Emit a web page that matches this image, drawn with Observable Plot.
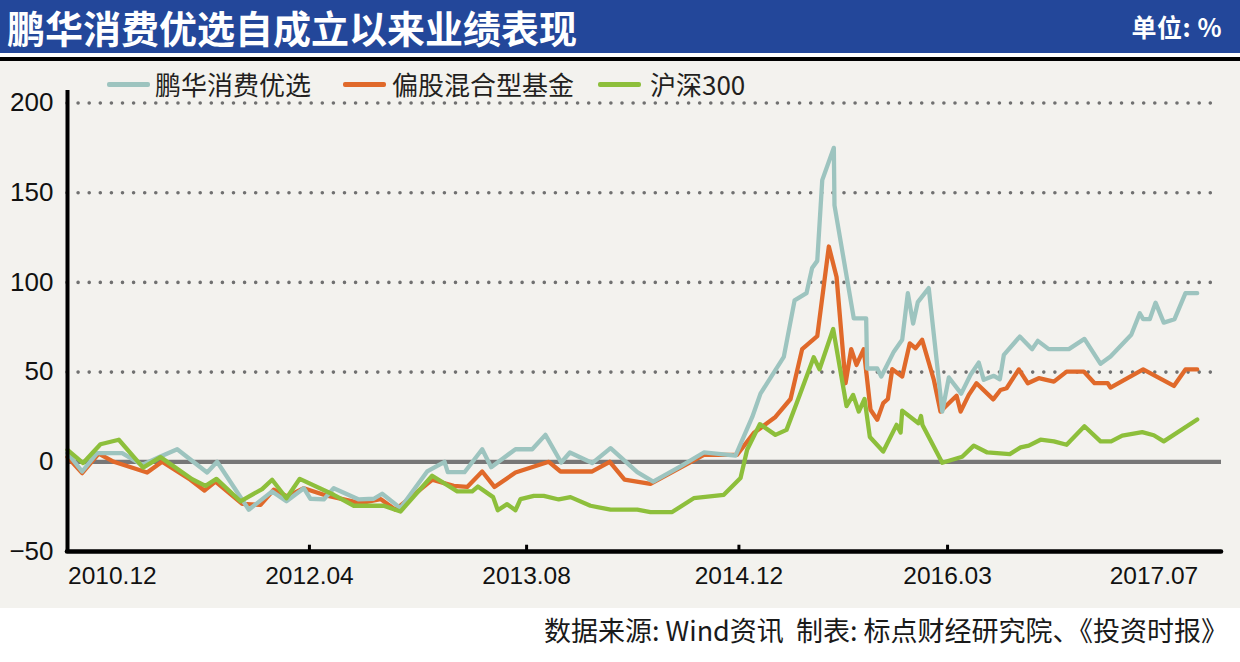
<!DOCTYPE html>
<html><head><meta charset="utf-8">
<script src="https://cdn.jsdelivr.net/npm/d3@7"></script>
<script src="https://cdn.jsdelivr.net/npm/@observablehq/plot@0.6"></script>
<style>
body{margin:0;background:#fff;width:1240px;height:662px;overflow:hidden;position:relative;font-family:"Noto Sans CJK SC",sans-serif;}
#titlebar{position:absolute;left:0;top:0;width:1240px;height:53px;background:#23479a;color:#fff;}
#title{position:absolute;left:7px;top:7px;font-size:38px;line-height:40px;font-weight:700;white-space:nowrap;}
#unit{position:absolute;right:18px;top:13px;font-size:25px;line-height:26px;font-weight:700;white-space:nowrap;letter-spacing:0.5px;}
#rule{position:absolute;left:0;top:57px;width:1240px;height:4px;background:#000;}
#panel{position:absolute;left:0;top:61px;width:1240px;height:547px;background:#f3f2ee;}
#chart{position:absolute;left:0;top:0;}
.sw{position:absolute;height:5px;border-radius:2px;top:21px;}
.lg{position:absolute;top:10px;font-size:26px;line-height:26px;color:#231f20;white-space:nowrap;}
#caption{position:absolute;right:12px;top:616px;font-size:27px;line-height:28px;color:#1a1a1a;white-space:pre;}
</style></head>
<body>
<div id="titlebar"><div id="title">鹏华消费优选自成立以来业绩表现</div><div id="unit">单位: %</div></div>
<div id="rule"></div>
<div id="panel"><div id="chart"></div><div id="legend"></div></div>
<div id="caption">数据来源: Wind资讯  制表: 标点财经研究院、《投资时报》</div>
<script>
// time as decimal year, value in %
const seriesNames = ["鹏华消费优选", "偏股混合型基金", "沪深300"];
const pengHua = [
[2010.696,4.8],[2010.787,-5.4],[2010.880,4.8],[2011.036,4.8],[2011.160,-1.7],[2011.274,3],[2011.378,7],
[2011.564,-6],[2011.626,0],[2011.823,-26.7],[2011.968,-16.5],[2012.057,-22],[2012.165,-14.7],[2012.206,-20.6],
[2012.289,-21],[2012.351,-14.7],[2012.507,-21],[2012.600,-20.6],[2012.652,-17.8],[2012.766,-25.8],[2012.932,-5.4],
[2013.040,0],[2013.060,-5.8],[2013.164,-5.8],[2013.274,7],[2013.330,-3],[2013.481,7],[2013.585,7],[2013.667,15],
[2013.765,-0.4],[2013.819,5.2],[2013.958,-0.7],[2014.072,7.6],[2014.238,-5.8],[2014.337,-11],[2014.507,-2.6],
[2014.652,5.2],[2014.849,3.5],[2014.953,25],[2015.004,38],[2015.149,58.5],[2015.216,90],[2015.290,94],
[2015.325,108],[2015.357,112],[2015.388,157],[2015.460,175],[2015.464,143],[2015.584,80],[2015.661,80],
[2015.667,52],[2015.730,52],[2015.755,47.5],[2015.833,61.4],[2015.885,68],[2015.920,94],[2015.953,77],
[2015.982,89],[2016.050,96.8],[2016.134,28],[2016.175,47],[2016.252,38],[2016.310,48.5],[2016.361,55.3],
[2016.392,45.7],[2016.455,47.9],[2016.492,46],[2016.517,59.6],[2016.616,69.8],[2016.693,62.8],[2016.728,67.4],
[2016.796,62.8],[2016.921,62.8],[2017.018,68.5],[2017.118,54.6],[2017.180,58.7],[2017.309,70.8],[2017.362,82.8],
[2017.383,79.5],[2017.424,79.5],[2017.460,88.7],[2017.511,77.6],[2017.578,79.5],[2017.646,94],[2017.719,94]
];
const pianGu = [
[2010.696,2.6],[2010.787,-6.3],[2010.890,4.5],[2010.984,0],[2011.191,-6],[2011.284,0],[2011.460,-10],
[2011.547,-16],[2011.616,-11],[2011.782,-23.4],[2011.896,-24],[2011.978,-15.6],[2012.062,-19.3],[2012.165,-14.7],
[2012.289,-18.4],[2012.517,-23],[2012.642,-20.8],[2012.735,-26.7],[2012.963,-10],[2013.097,-13.4],[2013.181,-14],
[2013.274,-5.4],[2013.350,-14],[2013.481,-6],[2013.688,0],[2013.761,-5.4],[2013.958,-5.4],[2014.067,0],
[2014.159,-10],[2014.320,-12.3],[2014.652,3.9],[2014.859,3.9],[2014.962,16],[2015.097,25],[2015.191,35],
[2015.263,62.8],[2015.357,70],[2015.429,120],[2015.477,103],[2015.533,43.8],[2015.568,62.8],[2015.601,54],
[2015.646,62.8],[2015.688,29],[2015.730,23.4],[2015.767,32.7],[2015.796,35],[2015.823,51.6],[2015.885,47.5],
[2015.932,66],[2015.968,63.3],[2016.009,68],[2016.082,45.6],[2016.123,28],[2016.154,30.8],[2016.223,36.8],
[2016.248,28],[2016.299,37.3],[2016.347,43.8],[2016.451,34.8],[2016.496,40],[2016.534,41],[2016.610,51.5],
[2016.666,43.8],[2016.734,46.6],[2016.828,44.7],[2016.907,50.3],[2017.014,50.3],[2017.081,43.8],[2017.163,43.8],
[2017.180,41.4],[2017.383,51.5],[2017.574,42.3],[2017.646,51.5],[2017.719,51.5]
];
const hs300 = [
[2010.696,6.7],[2010.793,-0.7],[2010.901,9.8],[2011.015,12.3],[2011.166,-3.2],[2011.274,2.6],[2011.471,-9.7],
[2011.554,-13.4],[2011.622,-9.5],[2011.771,-22],[2011.906,-15.2],[2011.968,-10],[2012.057,-20.3],[2012.140,-9.5],
[2012.351,-18.4],[2012.476,-24.5],[2012.662,-24.5],[2012.766,-27.7],[2012.963,-7.8],[2013.119,-16.5],
[2013.212,-16.5],[2013.247,-13.8],[2013.342,-19.7],[2013.371,-27],[2013.429,-23.6],[2013.481,-27],[2013.512,-20.8],
[2013.595,-19],[2013.657,-19],[2013.750,-21],[2013.823,-19.7],[2013.947,-24.5],[2014.072,-26.7],[2014.238,-26.7],
[2014.320,-28],[2014.455,-28],[2014.589,-20.3],[2014.776,-18.4],[2014.880,-9],[2014.921,6.7],[2015.000,21],
[2015.097,15],[2015.166,17.8],[2015.248,37.3],[2015.335,58.3],[2015.371,51.6],[2015.456,74],[2015.539,31],
[2015.580,37.3],[2015.615,28],[2015.651,35],[2015.684,13.8],[2015.767,5.7],[2015.850,20.6],[2015.875,16.3],
[2015.885,28.5],[2015.986,21.5],[2016.002,25.5],[2016.011,20.5],[2016.134,-0.5],[2016.258,2.8],[2016.330,9],
[2016.414,5.2],[2016.554,4.3],[2016.621,8],[2016.672,9],[2016.745,12.3],[2016.828,11.4],[2016.907,9.5],
[2017.018,19.8],[2017.118,11.4],[2017.184,11.4],[2017.253,14.6],[2017.377,16.5],[2017.449,14.8],[2017.511,11.4],
[2017.719,23.6]
];
const yTicks = [-50, 0, 50, 100, 150, 200];
const yGrid = [50, 100, 150, 200];
const xTickLabels = ["2010.12", "2012.04", "2013.08", "2014.12", "2016.03", "2017.07"];
const xTickAt = [2010.975, 2012.2, 2013.55, 2014.87, 2016.167, 2017.45];
const xDomain = [2010.696, 2017.870];

const colors = ["#9dc4bf", "#e0692a", "#8dbf3b"];

const toRows = (arr) => arr.map(([t, v]) => ({t, v}));
const x0 = xDomain[0];
const innerTicks = xTickAt.slice(1, 5);

const chart = Plot.plot({
  width: 1240, height: 547,
  marginLeft: 67, marginRight: 19, marginTop: 41.5, marginBottom: 57,
  style: {background: "transparent", fontFamily: "'Liberation Sans', Arial, sans-serif", overflow: "visible"},
  x: {type: "linear", domain: xDomain, axis: null},
  y: {type: "linear", domain: [-50, 200], axis: null},
  marks: [
    Plot.ruleY(yGrid, {stroke: "#707070", strokeWidth: 3.6, strokeLinecap: "round", strokeDasharray: "0 11.1"}),
    Plot.ruleY([0], {stroke: "#777777", strokeWidth: 4.2}),
    Plot.line(toRows(pianGu), {x: "t", y: "v", stroke: colors[1], strokeWidth: 4.3, strokeLinejoin: "round", strokeLinecap: "round"}),
    Plot.line(toRows(pengHua), {x: "t", y: "v", stroke: colors[0], strokeWidth: 4.3, strokeLinejoin: "round", strokeLinecap: "round"}),
    Plot.line(toRows(hs300), {x: "t", y: "v", stroke: colors[2], strokeWidth: 4.3, strokeLinejoin: "round", strokeLinecap: "round"}),
    Plot.ruleX([x0], {y1: -50, y2: 207, stroke: "#000", strokeWidth: 4}),
    Plot.ruleY([-50], {stroke: "#000", strokeWidth: 4.6, strokeLinecap: "round"}),
    Plot.ruleX(innerTicks, {y1: -50, y2: -46.5, stroke: "#000", strokeWidth: 3}),
    Plot.text(yTicks, {x: x0, y: d => d, text: d => d < 0 ? "\u221250" : String(d), textAnchor: "end", dx: -14, fontSize: 26, fill: "#111"}),
    Plot.text(xTickAt, {x: d => d, y: -50, text: (d, i) => xTickLabels[i], dy: 25, fontSize: 24.5, fill: "#111"})
  ]
});
document.getElementById("chart").appendChild(chart);

// legend
const legend = document.getElementById("legend");
const legendPos = [[107, 43, 155], [343, 43, 392], [598, 43, 650]];
seriesNames.forEach((name, i) => {
  const sw = document.createElement("div");
  sw.className = "sw";
  sw.style.left = legendPos[i][0] + "px";
  sw.style.width = legendPos[i][1] + "px";
  sw.style.background = colors[i];
  legend.appendChild(sw);
  const tx = document.createElement("div");
  tx.className = "lg";
  tx.style.left = legendPos[i][2] + "px";
  tx.textContent = name;
  legend.appendChild(tx);
});
</script>
</body></html>
